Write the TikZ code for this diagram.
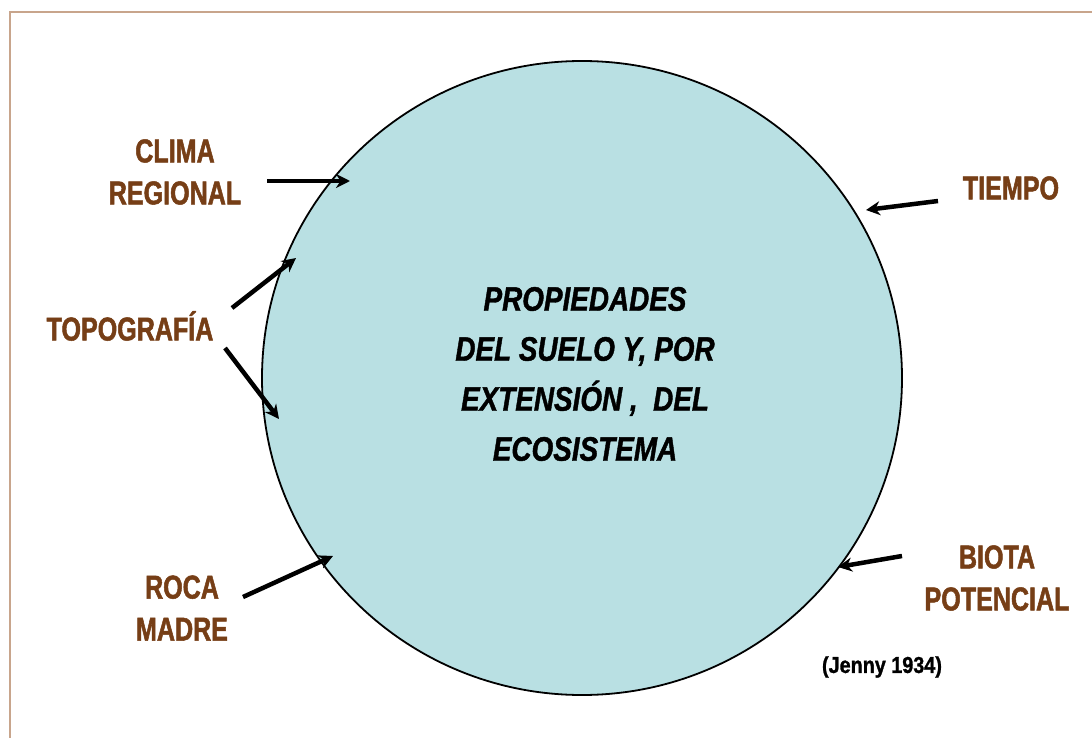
\documentclass[tikz,border=0pt]{standalone}
\usepackage{fontspec}
\usetikzlibrary{arrows.meta}
\newfontfamily\labfont{Liberation Sans}[FakeStretch=0.76,FakeBold=1.5]
\newfontfamily\cenfont{Liberation Sans}[FakeStretch=0.82,FakeBold=1.2]
\newfontfamily\jenfont{Liberation Sans}[FakeStretch=0.86,FakeBold=1.2]
\definecolor{soilbrown}{RGB}{118,62,22}
\definecolor{circfill}{RGB}{185,224,227}
\definecolor{frametan}{RGB}{200,165,140}
\tikzset{
  factor/.style={text=soilbrown, font=\labfont\bfseries\fontsize{33}{42}\selectfont, align=center, inner sep=0pt},
  ecobox/.style={text=black, font=\cenfont\bfseries\itshape\fontsize{34}{50}\selectfont, align=center, inner sep=0pt},
  refnote/.style={text=black, font=\jenfont\bfseries\fontsize{23}{24}\selectfont, inner sep=0pt},
  influence/.style={line width=4.5pt, -{Stealth[length=14pt,width=14pt]}, black},
}
\begin{document}
\begin{tikzpicture}[x=1pt,y=-1pt]
\useasboundingbox (0,0) rectangle (1092,738);
% frame (left and top edges)
\draw[frametan, line width=1.6pt] (10,738) -- (10,12) -- (1092,12);
% circle
\draw[fill=circfill, line width=1.8pt] (582,378) ellipse [x radius=320, y radius=317];
\node[ecobox] (eco) at (585,374) {PROPIEDADES\\DEL SUELO Y, POR\\EXTENSIÓN ,\ \ DEL\\ECOSISTEMA};
% labels
\node[factor] (clima) at (175,172) {CLIMA\\REGIONAL};
\node[factor] (topo) at (130,326) {TOPOGRAFÍA};
\node[factor] (roca) at (182,608) {ROCA\\MADRE};
\node[factor] (tiempo) at (1011,188) {TIEMPO};
\node[factor] (biota) at (997,578) {BIOTA\\POTENCIAL};
\node[refnote] (jenny) at (882,667) {(Jenny 1934)};
% arrow endpoints
\coordinate (c1) at (267,181); \coordinate (c2) at (350,181);
\coordinate (t1) at (232,308); \coordinate (t2) at (296,258);
\coordinate (t3) at (225,348); \coordinate (t4) at (279,419);
\coordinate (r1) at (243,597); \coordinate (r2) at (333,556);
\coordinate (p1) at (938,201); \coordinate (p2) at (866,210);
\coordinate (b1) at (902,556); \coordinate (b2) at (838,567);
\draw[influence] (c1) -- (c2);
\draw[influence] (t1) -- (t2);
\draw[influence] (t3) -- (t4);
\draw[influence] (r1) -- (r2);
\draw[influence] (p1) -- (p2);
\draw[influence] (b1) -- (b2);
\end{tikzpicture}
\end{document}
